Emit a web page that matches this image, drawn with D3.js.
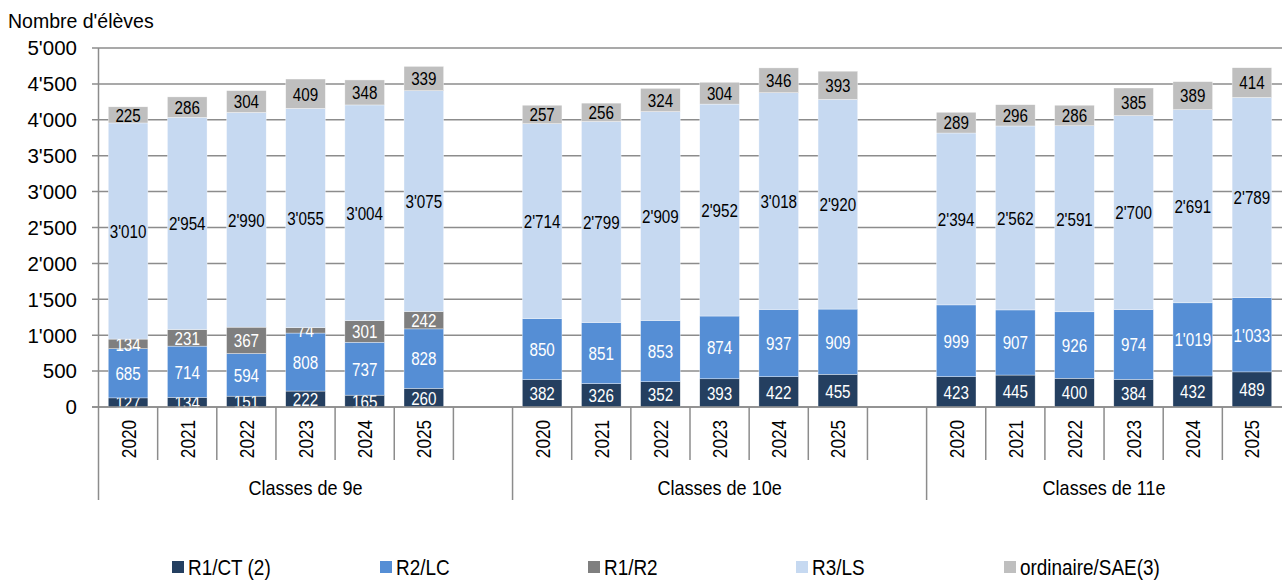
<!doctype html>
<html lang="fr">
<head>
<meta charset="utf-8">
<title>Nombre d'élèves par type de classe</title>
<script src="https://cdn.jsdelivr.net/npm/d3@7"></script>
<style>
  body { margin: 0; background: #fff; }
  text { font-family: "Liberation Sans", Arial, sans-serif; fill: #000; }
</style>
</head>
<body>
<script>
// data
var years = ["2020", "2021", "2022", "2023", "2024", "2025"];
var groups = ["Classes de 9e", "Classes de 10e", "Classes de 11e"];
var seriesNames = ["R1/CT (2)", "R2/LC", "R1/R2", "R3/LS", "ordinaire/SAE(3)"];
var r1ct = [[127, 134, 151, 222, 165, 260], [382, 326, 352, 393, 422, 455], [423, 445, 400, 384, 432, 489]];
var r2lc = [[685, 714, 594, 808, 737, 828], [850, 851, 853, 874, 937, 909], [999, 907, 926, 974, 1019, 1033]];
var r1r2 = [[134, 231, 367, 74, 301, 242], [0, 0, 0, 0, 0, 0], [0, 0, 0, 0, 0, 0]];
var r3ls = [[3010, 2954, 2990, 3055, 3004, 3075], [2714, 2799, 2909, 2952, 3018, 2920], [2394, 2562, 2591, 2700, 2691, 2789]];
var ordi = [[225, 286, 304, 409, 348, 339], [257, 256, 324, 304, 346, 393], [289, 296, 286, 385, 389, 414]];
var yTicks = [0, 500, 1000, 1500, 2000, 2500, 3000, 3500, 4000, 4500, 5000];

var colors = ["#243f60", "#558ed5", "#7f7f7f", "#c6d9f1", "#bfbfbf"];
var labelColors = ["#fff", "#fff", "#fff", "#000", "#000"];
var allSeries = [r1ct, r2lc, r1r2, r3ls, ordi];

var fr = d3.formatLocale({decimal: ".", thousands: "'", grouping: [3], currency: ["", ""]});
var fmt = fr.format(",d");

// slots: 6 years + one empty slot per group (the last group is cut at the edge)
var slots = [];
groups.forEach(function(g, gi) {
    years.forEach(function(y, yi) { slots.push({key: gi + "-" + y, group: gi, year: y, yi: yi}); });
    if (gi < groups.length - 1) slots.push({key: gi + "-blank", group: gi, year: null});
});

var rows = [];
groups.forEach(function(g, gi) {
    years.forEach(function(y, yi) {
        var r = {key: gi + "-" + y};
        seriesNames.forEach(function(s, si) { r[s] = allSeries[si][gi][yi]; });
        rows.push(r);
    });
});

var width = 1282, height = 580;
var svg = d3.select("body").append("svg").attr("width", width).attr("height", height);

var x = d3.scaleBand().domain(slots.map(function(d){ return d.key; })).range([98.5, 1281.5]).padding(0);
var y = d3.scaleLinear().domain([0, 5000]).range([407, 48]);
var bw = x.bandwidth() * 0.67;
var off = (x.bandwidth() - bw) / 2;

// gridlines
svg.append("g").selectAll("line").data(yTicks).enter().append("line")
    .attr("x1", 92).attr("x2", width)
    .attr("y1", function(d){ return y(d); }).attr("y2", function(d){ return y(d); })
    .attr("stroke", "#8c8c8c").attr("stroke-width", 1.5);

// y tick labels
svg.append("g").selectAll("text").data(yTicks).enter().append("text")
    .attr("x", 77).attr("y", function(d){ return y(d); })
    .attr("dy", "0.36em").attr("text-anchor", "end")
    .style("font-size", "20.5px")
    .text(function(d){ return fmt(d); });

svg.append("text").attr("x", 8).attr("y", 28).style("font-size", "19.5px").text("Nombre d'élèves");

// stacked bars
var stack = d3.stack().keys(seriesNames);
var stacked = stack(rows);

var layers = svg.append("g").selectAll("g").data(stacked).enter().append("g")
    .attr("fill", function(d, i){ return colors[i]; });
layers.selectAll("rect").data(function(d){ return d; }).enter().append("rect")
    .attr("x", function(d){ return x(d.data.key) + off; })
    .attr("width", bw)
    .attr("y", function(d){ return y(d[1]); })
    .attr("height", function(d){ return y(d[0]) - y(d[1]); })
    .attr("stroke", "#fff").attr("stroke-width", 0.5).attr("stroke-opacity", 0.7);

// axes lines
svg.append("line").attr("x1", 98.5).attr("x2", 98.5).attr("y1", 48).attr("y2", 500)
    .attr("stroke", "#8c8c8c").attr("stroke-width", 1.5);
svg.append("line").attr("x1", 92).attr("x2", width).attr("y1", 407).attr("y2", 407)
    .attr("stroke", "#8c8c8c").attr("stroke-width", 1.5);

// value labels (narrow look: squeezed horizontally)
layers.each(function(layer, i) {
    d3.select(this).selectAll("text").data(layer.filter(function(d){ return d[1] - d[0] > 0; }))
        .enter().append("text")
        .attr("transform", function(d){
            return "translate(" + (x(d.data.key) + x.bandwidth() / 2) + "," + y((d[0] + d[1]) / 2) + ") scale(0.8,1)";
        })
        .attr("dy", "0.36em").attr("text-anchor", "middle")
        .style("font-size", "19px")
        .style("fill", labelColors[i])
        .text(function(d){ return fmt(d[1] - d[0]); });
});

// category axis: year separators, group separators
var xa = svg.append("g");
slots.forEach(function(s, i) {
    if (i === 0) return;
    var bx = x(s.key);
    var isGroupStart = slots[i - 1].group !== s.group;
    xa.append("line").attr("x1", bx).attr("x2", bx).attr("y1", 407).attr("y2", isGroupStart ? 500 : 460)
        .attr("stroke", "#8c8c8c").attr("stroke-width", 1.5);
});
xa.selectAll("text.year").data(slots.filter(function(s){ return s.year; })).enter().append("text")
    .attr("class", "year")
    .attr("transform", function(d){ return "translate(" + (x(d.key) + x.bandwidth() / 2) + ",439) rotate(-90) scale(0.82,1)"; })
    .attr("text-anchor", "middle").attr("dy", "0.36em")
    .style("font-size", "21px")
    .text(function(d){ return d.year; });
xa.selectAll("text.grp").data(groups).enter().append("text")
    .attr("class", "grp")
    .attr("transform", function(g, gi){
        var first = x(gi + "-" + years[0]);
        var n = gi < groups.length - 1 ? years.length + 1 : years.length;
        return "translate(" + (first + n * x.bandwidth() / 2) + ",495) scale(0.88,1)";
    })
    .attr("text-anchor", "middle")
    .style("font-size", "20.5px")
    .text(function(g){ return g; });

// legend
var lg = svg.append("g").selectAll("g").data(seriesNames).enter().append("g")
    .attr("transform", function(d, i){ return "translate(" + (172 + i * 208) + ",561)"; });
lg.append("rect").attr("width", 12).attr("height", 12).attr("fill", function(d, i){ return colors[i]; });
lg.append("text").attr("transform", "translate(16,6) scale(0.88,1)").attr("dy", "0.36em").style("font-size", "21.5px")
    .text(function(d){ return d; });
</script>
</body>
</html>
